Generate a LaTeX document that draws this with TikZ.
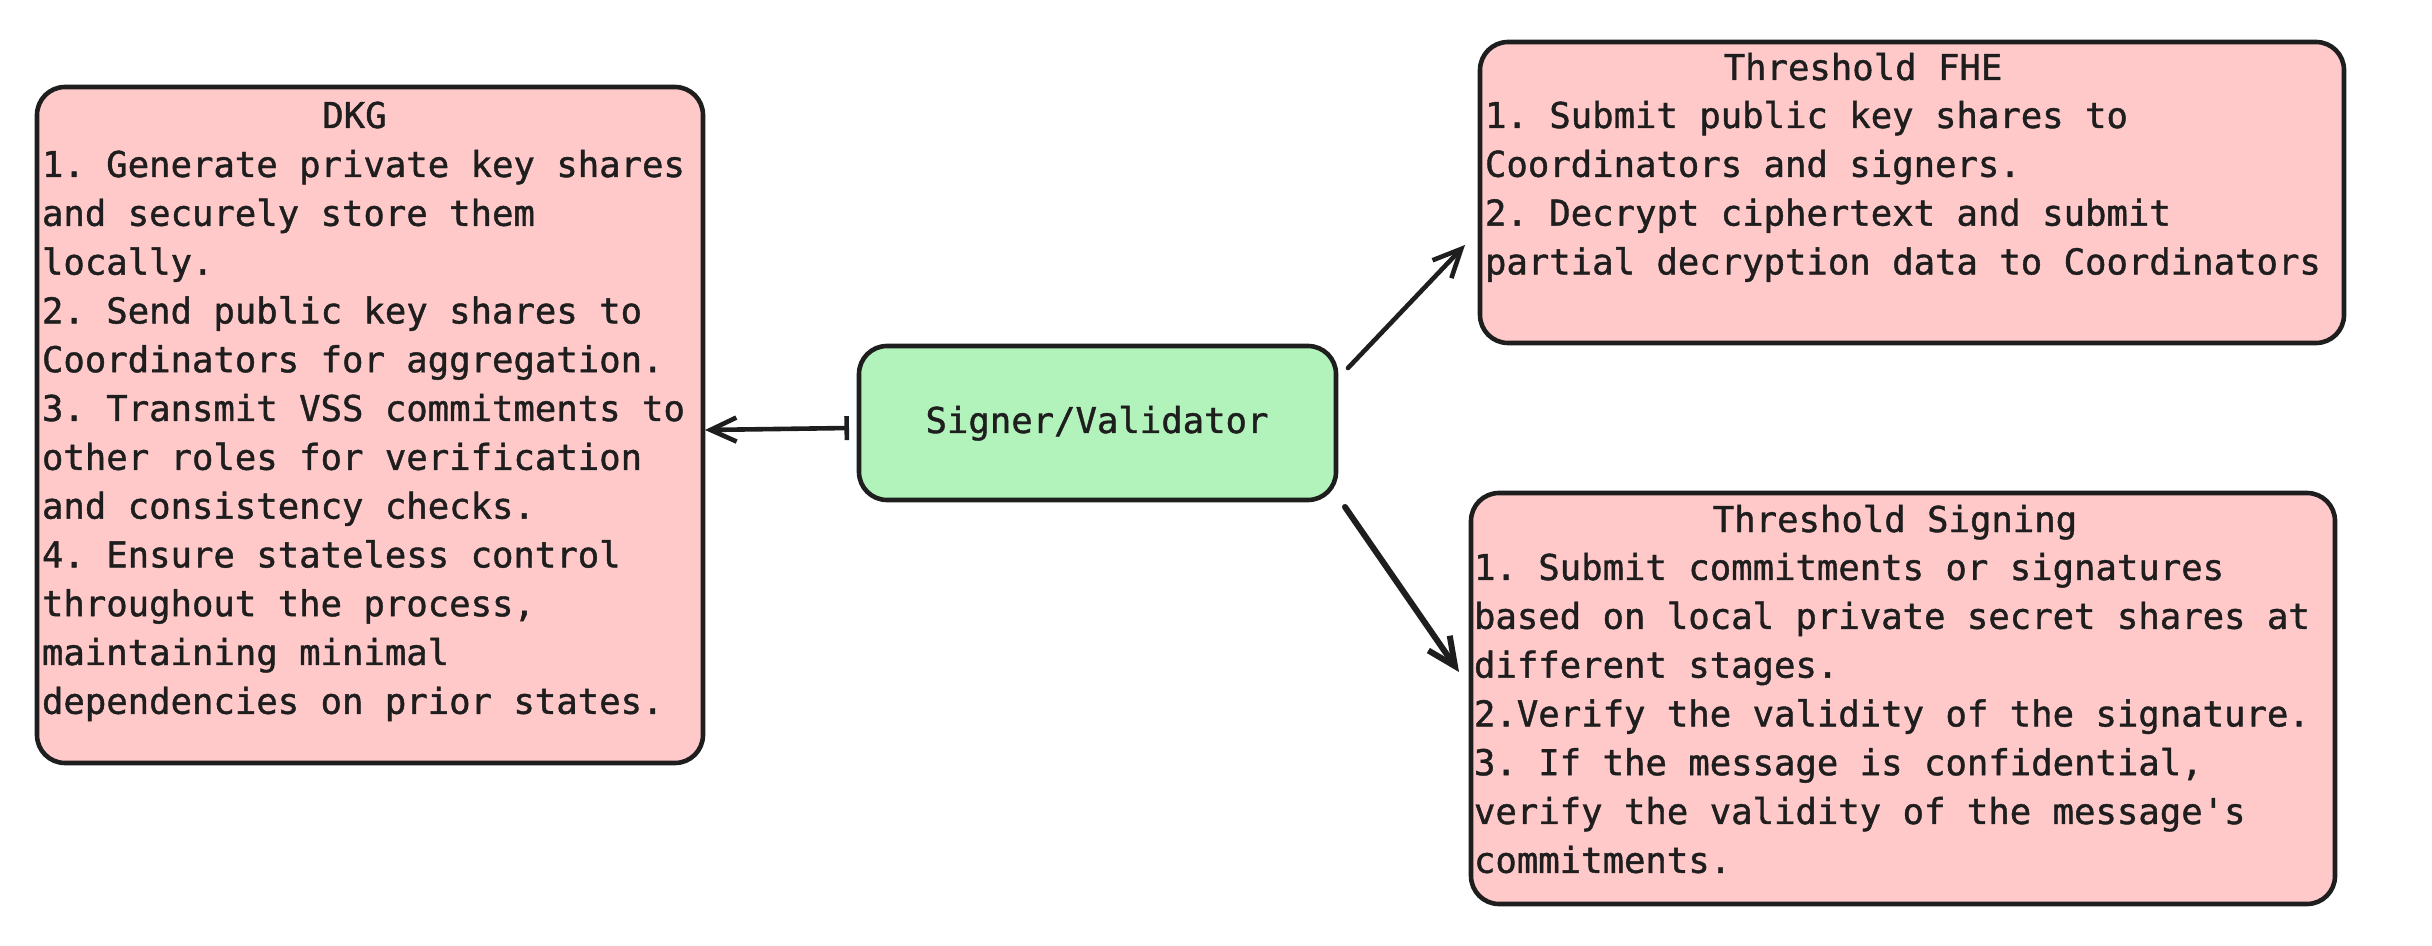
\documentclass[tikz,border=0pt]{standalone}
\usepackage{fontspec}
\setmonofont{DejaVu Sans Mono}[RawFeature={embolden=1.2}]
\usetikzlibrary{arrows.meta,calc}
\definecolor{ink}{HTML}{1E1E1E}
\definecolor{pinkfill}{HTML}{FFC9C9}
\definecolor{greenfill}{HTML}{B2F2BB}
\newcommand\tfont{\ttfamily\fontsize{17.8pt}{24.4pt}\selectfont}
\begin{document}
\begin{tikzpicture}[x=0.5pt,y=-0.5pt,
  box/.style={draw=ink, line width=2.3pt, rounded corners=14pt, inner sep=0pt, outer sep=0pt},
  pinkbox/.style={box, fill=pinkfill},
  greenbox/.style={box, fill=greenfill},
  txt/.style={inner sep=0pt, outer sep=0pt, text=ink, font=\tfont},
  conn/.style={draw=ink, line width=2.3pt, line cap=round},
  tip/.style={-{Straight Barb[length=14pt,width=13pt]}},
]
\useasboundingbox (0,0) rectangle (2432,946);

% boxes
\node[pinkbox, minimum width=333pt, minimum height=338pt] (dkg) at (370,425) {};
\node[greenbox, minimum width=238.5pt, minimum height=77pt] (sv) at (1097.5,423) {};
\node[pinkbox, minimum width=432pt, minimum height=150.5pt] (fhe) at (1912,192.5) {};
\node[pinkbox, minimum width=432pt, minimum height=205.5pt] (sig) at (1903,698.5) {};

% texts
\node[txt, anchor=base] (svt) at (1097,433) {Signer/Validator};

\node[txt, anchor=base] (dkgtitle) at (354.5,128) {DKG};
\node[txt, anchor=base west] (dkgbody) at (42,177) {\parbox[t]{340pt}{\tfont\raggedright
1. Generate private key shares\\
and securely store them\\
locally.\\
2. Send public key shares to\\
Coordinators for aggregation.\\
3. Transmit VSS commitments to\\
other roles for verification\\
and consistency checks.\\
4. Ensure stateless control\\
throughout the process,\\
maintaining minimal\\
dependencies on prior states.}};

\node[txt, anchor=base] (fhetitle) at (1863,80) {Threshold FHE};
\node[txt, anchor=base west] (fhebody) at (1485,128) {\parbox[t]{430pt}{\tfont\raggedright
1. Submit public key shares to\\
Coordinators and signers.\\
2. Decrypt ciphertext and submit\\
partial decryption data to Coordinators}};

\node[txt, anchor=base] (sigtitle) at (1895,532) {Threshold Signing};
\node[txt, anchor=base west] (sigbody) at (1474,580) {\parbox[t]{430pt}{\tfont\raggedright
1. Submit commitments or signatures\\
based on local private secret shares at\\
different stages.\\
2.Verify the validity of the signature.\\
3. If the message is confidential,\\
verify the validity of the message's\\
commitments.}};

% connectors
\draw[conn, {Bar[width=12pt]}-{Straight Barb[length=13pt,width=12pt]}]
  ($(sv.west)+(-10,5)$) -- ($(dkg.east)+(2,5)$);
\draw[conn, tip] ($(sv.north east)+(12,22)$) -- ($(fhe.south west)+(-15,-98)$);
\draw[conn, tip, line width=3pt] ($(sv.south east)+(9,7)$) -- ($(sig.north west)+(-12,179)$);
\end{tikzpicture}
\end{document}
